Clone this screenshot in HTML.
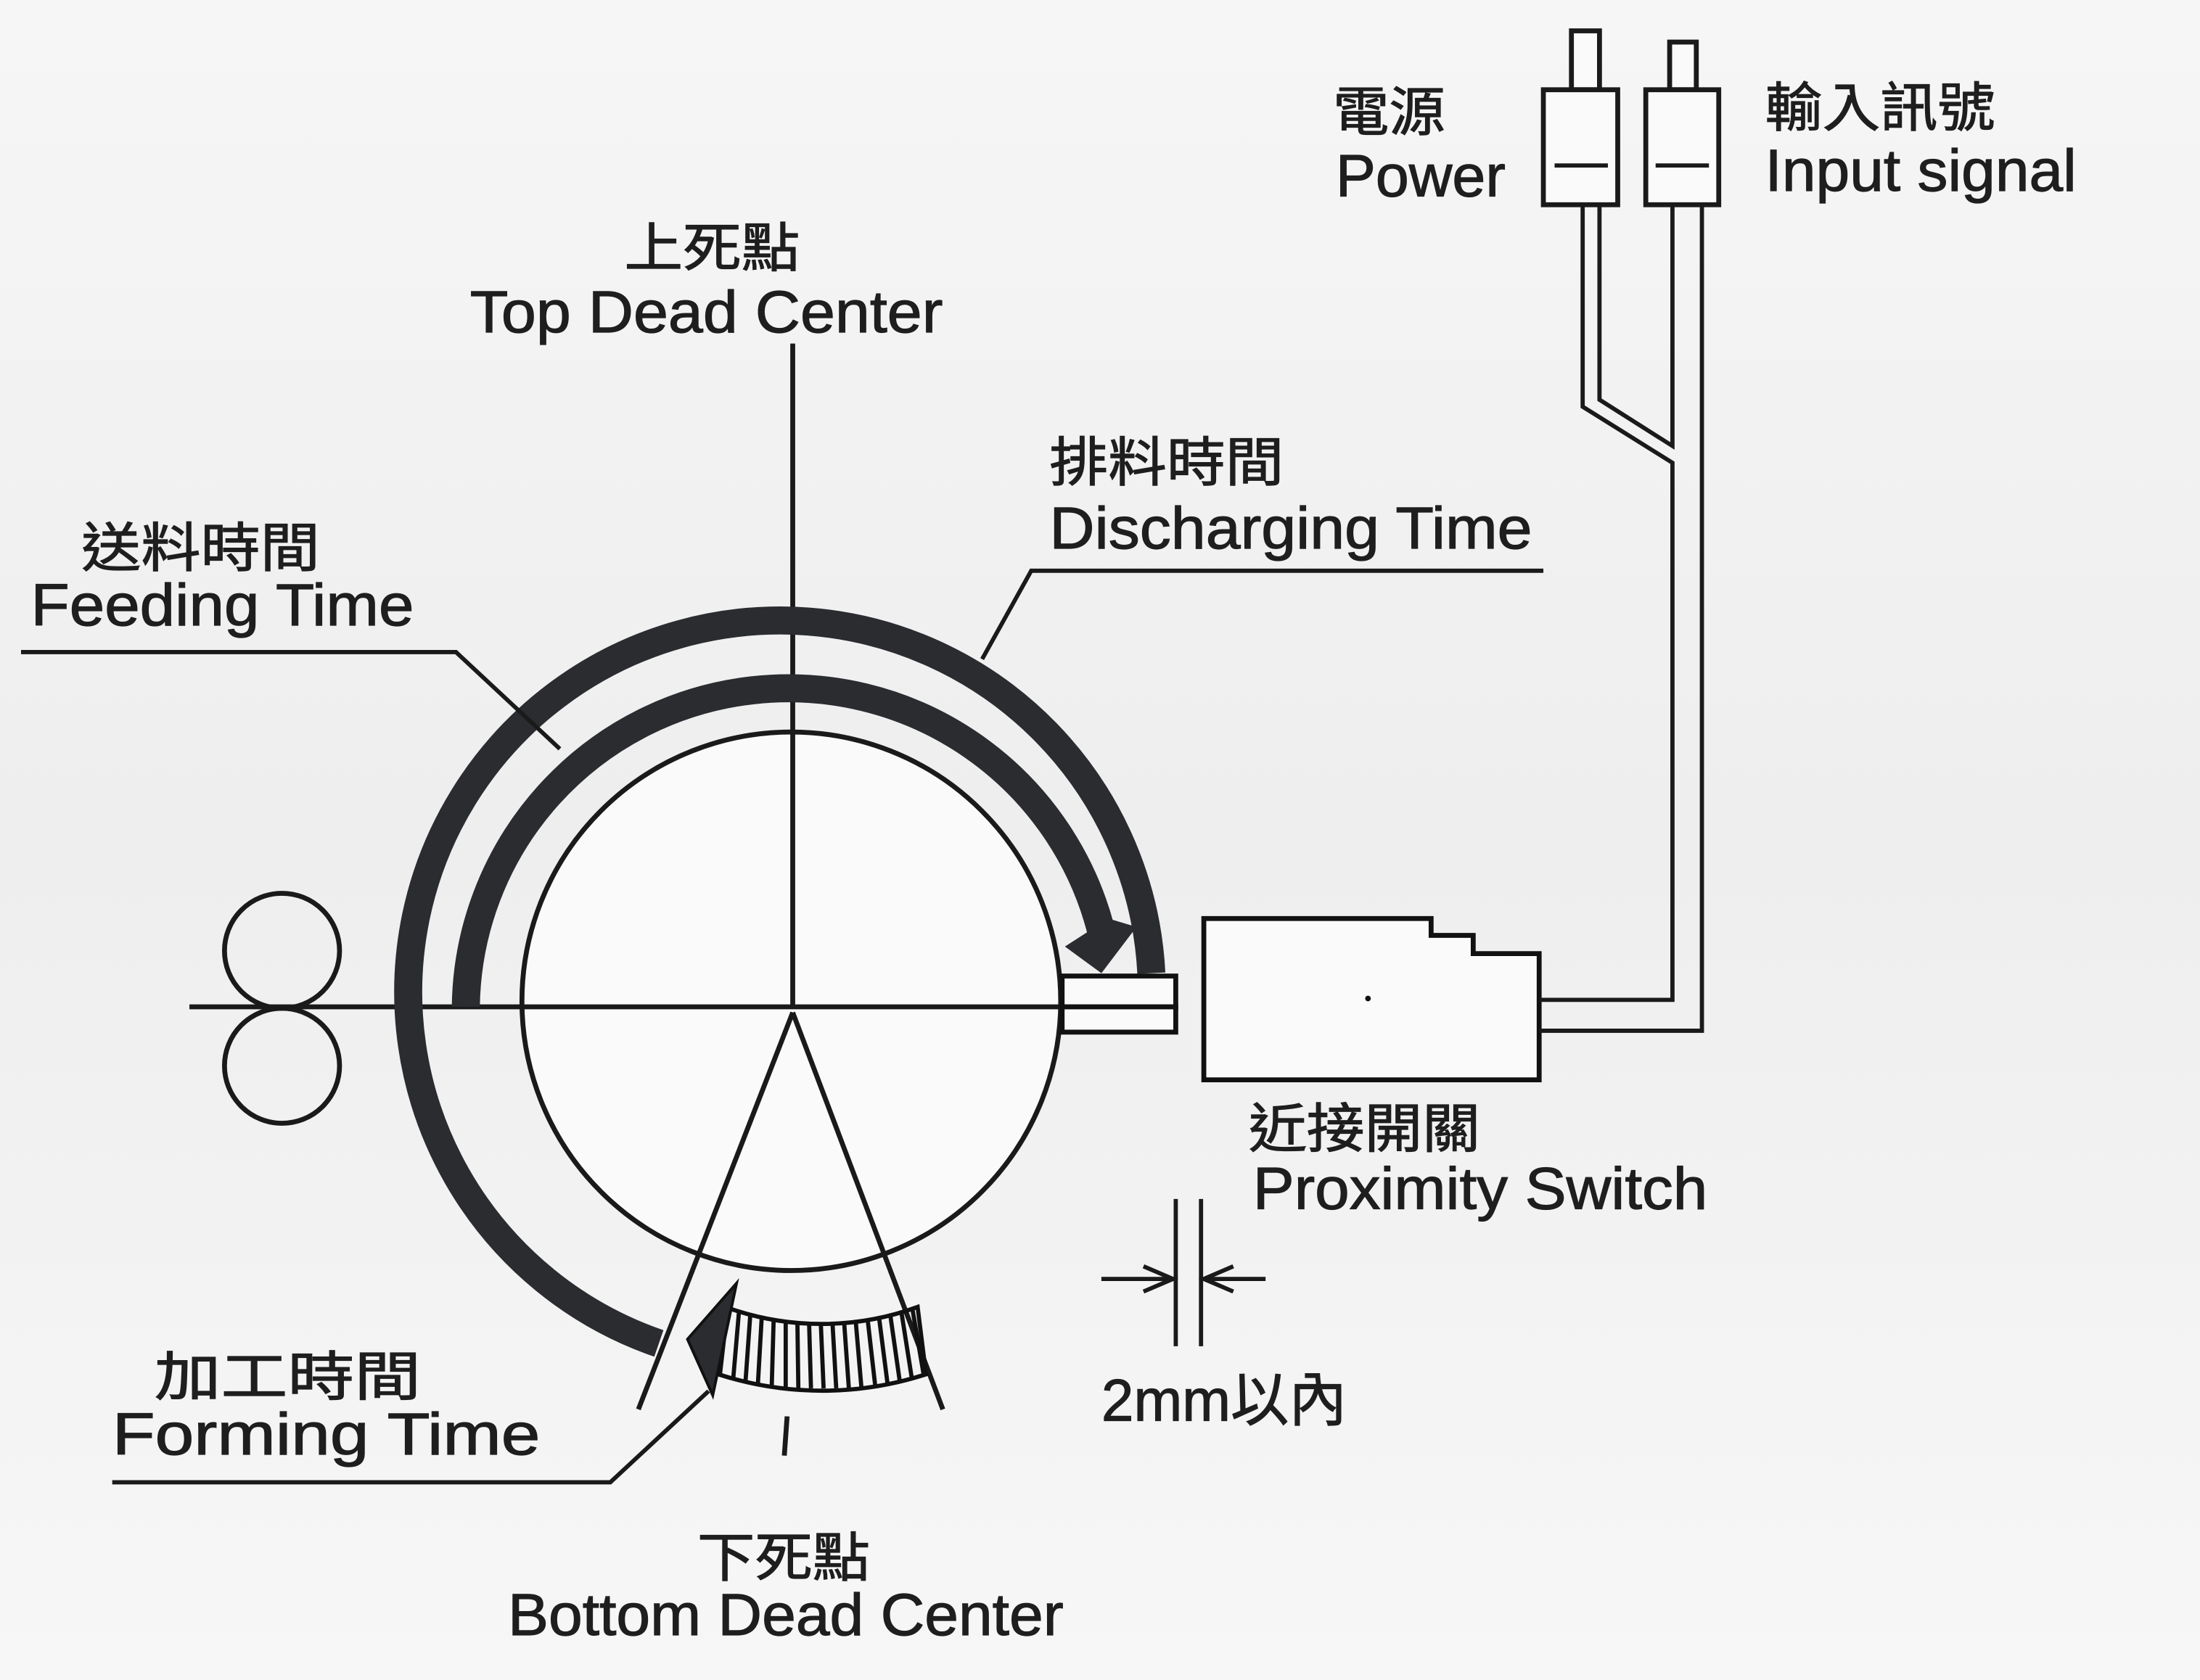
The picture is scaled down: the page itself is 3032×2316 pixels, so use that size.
<!DOCTYPE html>
<html><head><meta charset="utf-8"><style>
html,body{margin:0;padding:0;background:#f4f4f4;}
svg{display:block;}
text{font-family:"Liberation Sans","Noto Sans CJK TC",sans-serif;fill:#1e1e1e;stroke:#1e1e1e;stroke-width:0.6;}
.en{font-size:42px;}
.cj{font-size:38px;}
</style></head><body>
<svg width="3032" height="2316" viewBox="0 0 1568 1198" preserveAspectRatio="none" xmlns="http://www.w3.org/2000/svg">
<defs>
<linearGradient id="bg" x1="0" y1="0" x2="0" y2="1">
<stop offset="0" stop-color="#f6f6f6"/><stop offset="0.5" stop-color="#eeeeee"/><stop offset="1" stop-color="#f7f7f7"/>
</linearGradient>
<clipPath id="hc"><path d="M517,932 A200,200 0 0 0 654,932 L660,980 A240,240 0 0 1 512,980 Z"/></clipPath>
</defs>
<rect width="1568" height="1198" fill="url(#bg)"/>
<g stroke="#1a1a1a" fill="none" stroke-width="3.5">
<circle cx="564" cy="714" r="192" fill="#fafafa"/>
<line x1="135" y1="718" x2="757" y2="718"/>
<line x1="565" y1="245" x2="565" y2="718"/>
<circle cx="201" cy="678" r="41"/>
<circle cx="201" cy="760" r="41"/>
<line x1="565" y1="722" x2="455" y2="1005"/>
<line x1="565" y1="722" x2="672" y2="1005"/>
<line x1="561" y1="1010" x2="559" y2="1038"/>
</g>
<!-- outer arc (feeding) -->
<path d="M469.6,958 A265,265 0 1 1 820.6,694" stroke="#2a2c30" stroke-width="20" fill="none"/>
<!-- discharging arc -->
<path d="M332,718 A230,230 0 0 1 785.6,667" stroke="#2a2c30" stroke-width="20" fill="none"/>
<polygon points="759,675 785,694 810,661 790,655" fill="#2a2c30"/>
<!-- rail -->
<rect x="757" y="696" width="81" height="22" fill="#fafafa" stroke="#111" stroke-width="3.5"/>
<rect x="757" y="718" width="81" height="18" fill="#fafafa" stroke="#111" stroke-width="3.5"/>
<!-- hatch band -->
<g clip-path="url(#hc)" stroke="#111" stroke-width="3">
<path d="M520,920 l-8,70 M528,920 l-6,70 M536,920 l-5,70 M544,920 l-4,70 M552,920 l-2,70 M560,920 l0,70 M568,920 l1,70 M576,920 l2,70 M584,920 l3,70 M592,920 l4,70 M600,920 l5,70 M608,920 l6,70 M616,920 l8,70 M624,920 l9,70 M632,920 l10,70 M640,920 l11,70 M648,920 l12,70"/>
</g>
<path d="M517,932 A200,200 0 0 0 654,932 L660,980 A240,240 0 0 1 512,980 Z" fill="none" stroke="#111" stroke-width="3"/>
<polygon points="525,915 508,995 490,955" fill="#2a2c30" stroke="#111" stroke-width="2"/>
<g stroke="#1a1a1a" stroke-width="3" fill="none">
<polyline points="15,465 325,465 399,534"/>
<polyline points="1100,407 735,407 700,470"/>
<polyline points="80,1057 435,1057 505,992"/>
</g>
<polygon points="858,655 1020,655 1020,667 1050,667 1050,680 1097,680 1097,770 858,770" fill="#fafafa" stroke="#111" stroke-width="3.5"/>
<circle cx="975" cy="712" r="2" fill="#111"/>
<g stroke="#1a1a1a" stroke-width="3" fill="none">
<polyline points="1097,713 1192,713 1192,330 1128,290 1128,145"/>
<polyline points="1097,735 1213,735 1213,145"/>
<polyline points="1140,145 1140,285 1192,318 1192,145"/>
</g>
<g stroke="#1a1a1a" stroke-width="3.5" fill="#fafafa">
<rect x="1120" y="22" width="20" height="42"/>
<rect x="1100" y="64" width="53" height="82"/>
<rect x="1190" y="30" width="19" height="34"/>
<rect x="1173" y="64" width="52" height="82"/>
</g>
<g stroke="#1a1a1a" stroke-width="3">
<line x1="1108" y1="118" x2="1146" y2="118"/>
<line x1="1180" y1="118" x2="1218" y2="118"/>
</g>
<g stroke="#1a1a1a" stroke-width="3" fill="none">
<line x1="838" y1="855" x2="838" y2="960"/>
<line x1="856" y1="855" x2="856" y2="960"/>
<line x1="785" y1="912" x2="836" y2="912"/>
<line x1="858" y1="912" x2="902" y2="912"/>
<polyline points="815,903 836,912 815,921"/>
<polyline points="879,903 858,912 879,921"/>
</g>
<text class="cj" x="445" y="190" textLength="125" lengthAdjust="spacingAndGlyphs">上死點</text>
<text class="en" x="335" y="237" textLength="337" lengthAdjust="spacingAndGlyphs">Top Dead Center</text>
<text class="cj" x="748" y="343" textLength="167" lengthAdjust="spacingAndGlyphs">排料時間</text>
<text class="en" x="748" y="391" textLength="344" lengthAdjust="spacingAndGlyphs">Discharging Time</text>
<text class="cj" x="58" y="404" textLength="170" lengthAdjust="spacingAndGlyphs">送料時間</text>
<text class="en" x="22" y="446" textLength="273" lengthAdjust="spacingAndGlyphs">Feeding Time</text>
<text class="cj" x="950" y="93" textLength="80" lengthAdjust="spacingAndGlyphs">電源</text>
<text class="en" x="952" y="140" textLength="121" lengthAdjust="spacingAndGlyphs">Power</text>
<text class="cj" x="1258" y="90" textLength="164" lengthAdjust="spacingAndGlyphs">輸入訊號</text>
<text class="en" x="1258" y="136" textLength="222" lengthAdjust="spacingAndGlyphs">Input signal</text>
<text class="cj" x="890" y="818" textLength="165" lengthAdjust="spacingAndGlyphs">近接開關</text>
<text class="en" x="893" y="862" textLength="324" lengthAdjust="spacingAndGlyphs">Proximity Switch</text>
<text class="en" x="785" y="1013" textLength="175" lengthAdjust="spacingAndGlyphs">2mm以內</text>
<text class="cj" x="110" y="995" textLength="190" lengthAdjust="spacingAndGlyphs">加工時間</text>
<text class="en" x="80" y="1037" textLength="305" lengthAdjust="spacingAndGlyphs">Forming Time</text>
<text class="cj" x="497" y="1124" textLength="123" lengthAdjust="spacingAndGlyphs">下死點</text>
<text class="en" x="362" y="1166" textLength="396" lengthAdjust="spacingAndGlyphs">Bottom Dead Center</text>
</svg>
</body></html>
